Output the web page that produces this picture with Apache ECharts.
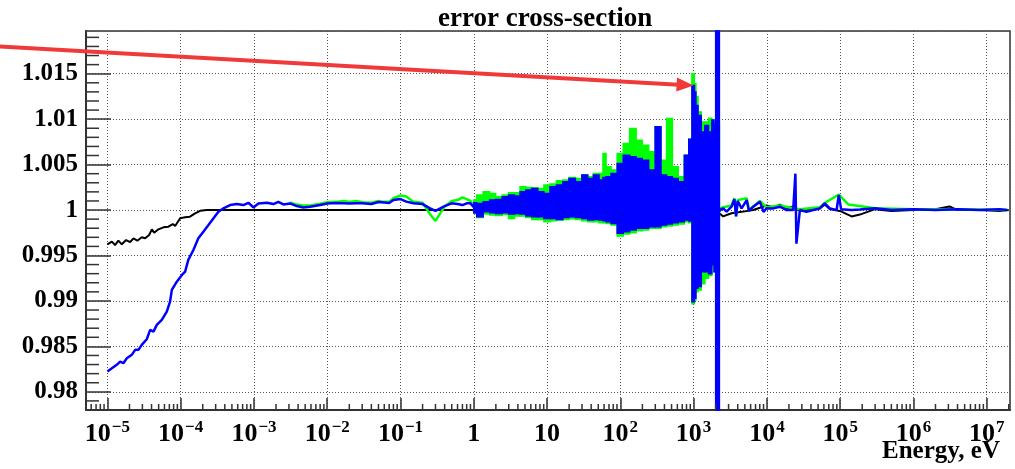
<!DOCTYPE html>
<html>
<head>
<meta charset="utf-8">
<script src="https://cdn.jsdelivr.net/npm/echarts@6/dist/echarts.min.js"></script>
<style>
  html, body { margin: 0; padding: 0; background: #fff; }
  #chart { width: 1015px; height: 469px; }
</style>
</head>
<body>
<div id="chart"></div>
<script>
// ---- axis ranges ----
const X_MIN = 5.1e-6, X_MAX = 2.08e7;   // energy, eV (plotted on log10 scale)
const Y_MIN = 0.978, Y_MAX = 1.0197;    // ratio

// ---- black curve ----
const blackE = [1.0e-5, 1.15e-5, 1.27e-5, 1.41e-5, 1.57e-5, 1.80e-5, 2.04e-5, 2.27e-5, 2.56e-5, 2.94e-5,
  3.27e-5, 3.71e-5, 4.04e-5, 4.34e-5, 4.97e-5, 5.81e-5, 6.79e-5, 7.80e-5, 8.40e-5, 9.82e-5,
  1.15e-4, 1.34e-4, 1.57e-4, 1.84e-4, 2.27e-4, 1.0e-3, 1.0e-2, 0.1, 1, 10, 100, 1000,
  2285, 2535, 2818, 3296, 4519, 6516, 9908, 12200, 15040, 18560, 22860, 28200, 34760,
  52840, 61790, 72390, 99100, 143300, 185800, 3.0e5, 5.0e5, 1.0e6, 2.0e6, 3.1e6, 4.0e6, 8.0e6, 1.5e7, 2.0e7];
const blackY = [0.99623, 0.99652, 0.99615, 0.99663, 0.99623, 0.99670, 0.99648, 0.99689, 0.99663, 0.99700,
  0.99689, 0.99725, 0.99788, 0.99751, 0.99788, 0.99810, 0.99817, 0.99846, 0.99824, 0.99909,
  0.99920, 0.99927, 0.99963, 0.99992, 1.0, 1.0, 1.0, 1.0, 1.0, 1.0, 1.0, 1.0,
  0.9996, 0.9993, 0.99945, 0.99965, 0.9998, 1.0, 1.0005, 1.0003, 1.0006, 1.0002, 1.0004, 0.9999, 1.0,
  1.0002, 1.0006, 1.0001, 0.9999, 0.9993, 0.9995, 1.0001, 0.9999, 1.0, 1.0001, 1.0004, 1.0, 1.0, 0.9999, 1.0];

// ---- blue curve, smooth parts ----
const blueLowE = [1.0e-5, 1.15e-5, 1.34e-5, 1.49e-5, 1.65e-5, 1.84e-5, 2.15e-5, 2.39e-5, 2.65e-5, 2.94e-5,
  3.44e-5, 3.83e-5, 4.25e-5, 4.72e-5, 5.52e-5, 6.46e-5, 7.16e-5, 7.57e-5, 8.85e-5, 1.04e-4,
  1.15e-4, 1.27e-4, 1.49e-4, 1.74e-4, 2.04e-4, 2.39e-4, 2.79e-4, 3.27e-4, 3.83e-4, 4.72e-4,
  5.82e-4, 7.16e-4, 8.39e-4, 9.82e-4, 1.15e-3, 1.50e-3, 1.84e-3, 2.15e-3, 2.52e-3, 3.10e-3,
  3.84e-3, 4.72e-3, 5.82e-3, 7.98e-3, 0.01, 0.013, 0.017, 0.02, 0.025, 0.03,
  0.04, 0.05, 0.06, 0.07, 0.08, 0.1, 0.12, 0.15, 0.2, 0.25,
  0.3, 0.4, 0.5, 0.6, 0.7, 0.8, 0.9, 1.0];
const blueLowY = [0.98223, 0.98260, 0.98297, 0.98333, 0.98315, 0.98370, 0.98407, 0.98462, 0.98462, 0.98516,
  0.98579, 0.98681, 0.98663, 0.98736, 0.98791, 0.98883, 0.98992, 0.99121, 0.99212, 0.99286,
  0.99322, 0.99451, 0.99560, 0.99689, 0.99762, 0.99835, 0.99908, 0.99982, 1.00018, 1.00055,
  1.00066, 1.00055, 1.00080, 1.00029, 1.00073, 1.00080, 1.00066, 1.00091, 1.00062, 1.00073,
  1.00044, 1.00029, 1.00036, 1.00055, 1.00071, 1.00077, 1.00074, 1.00071, 1.00074, 1.00074,
  1.00066, 1.00088, 1.00082, 1.00077, 1.00110, 1.00121, 1.00093, 1.00074, 1.00066, 1.00022,
  0.99992, 1.00044, 1.00074, 1.00066, 1.00055, 1.00074, 1.00074, 1.00030];
const blueHighE = [2300, 2535, 2818, 3296, 3600, 3800, 4000, 4519, 5300, 5700,
  6516, 8036, 9000, 9908, 12200, 15040, 18560, 22860, 24500, 25300,
  28200, 34760, 42850, 52840, 61790, 72390, 89300, 96000, 103000, 143300,
  185800, 3.0e5, 5.0e5, 1.0e6, 2.0e6, 4.0e6, 8.0e6, 1.5e7, 1.9e7];
const blueHighY = [1.0000, 1.00018, 0.99982, 1.00037, 1.0012, 0.9993, 1.0010, 1.00018, 1.0011, 0.9999,
  1.00037, 1.00092, 0.9998, 1.0002, 1.00018, 1.00037, 1.0, 1.0, 1.0040, 0.9963,
  1.0, 0.99982, 1.0, 1.00018, 1.00073, 1.00018, 1.0, 1.00165, 1.0001, 1.0,
  1.00005, 1.0002, 1.0, 1.0001, 1.0, 1.0001, 1.0, 1.0001, 1.0];

// ---- green curve, smooth parts ----
const greenLowE = [3.10e-3, 3.84e-3, 4.72e-3, 5.82e-3, 7.98e-3, 0.01, 0.013, 0.017, 0.02, 0.025,
  0.03, 0.04, 0.05, 0.06, 0.07, 0.08, 0.1, 0.12, 0.15, 0.2,
  0.25, 0.3, 0.4, 0.5, 0.6, 0.7, 0.8, 0.9, 1.0];
const greenLowY = [1.00085, 1.0006, 1.0005, 1.0005, 1.0007, 1.00085, 1.0009, 1.0010, 1.0009, 1.0010,
  1.00085, 1.0008, 1.0010, 1.0009, 1.0009, 1.0013, 1.0016, 1.0015, 1.0009, 1.0008,
  0.9996, 0.9988, 1.0004, 1.0010, 1.0011, 1.0014, 1.0012, 1.0010, 1.0004];
const greenHighE = [2300, 2535, 3296, 3600, 3800, 4000, 5300, 5700, 8036, 9908,
  15040, 22860, 28200, 52840, 61790, 96000, 1.3e5, 3.0e5, 1.0e6, 4.0e6, 1.9e7];
const greenHighY = [1.0002, 1.0003, 1.0005, 1.0013, 0.9993, 1.0011, 1.0013, 1.0, 1.0010, 1.0003,
  1.0005, 1.0002, 1.0001, 1.0003, 1.0008, 1.0017, 1.0006, 1.0002, 1.0001, 1.0001, 1.0];

// ---- fluctuating region 1 eV .. 2.3 keV: upper / lower envelopes ----
const bandE = [1.0, 1.2, 1.5, 1.8, 2.2, 2.7, 3.3, 3.9, 4.7, 5.6,
  6.8, 8.2, 10, 12, 15, 18, 22, 27, 33, 39,
  47, 56, 60, 68, 82, 100, 120, 150, 180, 220,
  270, 330, 390, 470, 560, 680, 820, 900, 1000, 1050,
  1100, 1200, 1350, 1500, 1700, 1850, 1950, 2050, 2200, 2300];
const blueBandHi = [1.00081, 1.00073, 1.00092, 1.00110, 1.00117, 1.00147, 1.00165, 1.00154, 1.00201, 1.00220,
  1.00238, 1.00201, 1.00183, 1.00256, 1.00275, 1.00311, 1.00348, 1.00311, 1.00385, 1.00348,
  1.00385, 1.00330, 1.00359, 1.00366, 1.00403, 1.00513, 1.00604, 1.00586, 1.00568, 1.00549,
  1.00440, 1.00916, 1.00385, 1.00366, 1.00348, 1.00311, 1.00604, 1.0078, 1.0137, 1.0130,
  1.0115, 1.0104, 1.0086, 1.0093, 1.0086, 1.0099, 1.0093, 1.04, 1.04, 1.0001];
const blueBandLo = [0.99971, 0.99927, 0.99982, 0.99971, 0.99963, 0.99971, 0.99956, 0.99963, 0.99956, 0.99934,
  0.99927, 0.99927, 0.99908, 0.99908, 0.99897, 0.99919, 0.99927, 0.99919, 0.99908, 0.99890,
  0.99897, 0.99890, 0.99883, 0.99872, 0.99853, 0.99744, 0.99762, 0.99780, 0.99799, 0.99799,
  0.99817, 0.99817, 0.99835, 0.99846, 0.99861, 0.99872, 0.99890, 0.9988, 0.9899, 0.9903,
  0.9914, 0.9916, 0.9932, 0.9932, 0.9930, 0.9940, 0.9932, 0.95, 0.95, 0.9999];
const greenBandHi = [1.00110, 1.00165, 1.00201, 1.00183, 1.00147, 1.00165, 1.00190, 1.00190, 1.00256, 1.00249,
  1.00245, 1.00238, 1.00275, 1.00286, 1.00322, 1.00330, 1.00359, 1.00348, 1.00385, 1.00366,
  1.00403, 1.00403, 1.00623, 1.00476, 1.00440, 1.00623, 1.00733, 1.00897, 1.00769, 1.00714,
  1.00641, 1.00916, 1.00549, 1.01007, 1.00476, 1.00366, 1.00604, 1.0078, 1.0150, 1.0139,
  1.0125, 1.0108, 1.0097, 1.0097, 1.0101, 1.0099, 1.0093, 1.0093, 1.0093, 1.0001];
const greenBandLo = [0.99963, 0.99919, 0.99956, 0.99945, 0.99941, 0.99952, 0.99908, 0.99934, 0.99934, 0.99919,
  0.99897, 0.99897, 0.99872, 0.99883, 0.99890, 0.99897, 0.99905, 0.99897, 0.99883, 0.99872,
  0.99872, 0.99861, 0.99861, 0.99853, 0.99835, 0.99714, 0.99736, 0.99751, 0.99773, 0.99780,
  0.99799, 0.99799, 0.99817, 0.99824, 0.99835, 0.99846, 0.99872, 0.9986, 0.9897, 0.9901,
  0.9910, 0.9912, 0.9919, 0.9925, 0.9928, 0.9938, 0.9932, 0.9932, 0.9932, 0.9999];

// ---- annotation arrow: tail (off to the left) and tip at the 1 keV peak ----
const ARROW_FROM = [3.4e-7, 1.0180];
const ARROW_TO = [1000, 1.0137];

// ---- texts ----
const TITLE = 'error cross-section';
const X_NAME = 'Energy, eV';

const FONT = '"Liberation Serif", "Times New Roman", serif';
const BLUE = '#0000ff', GREEN = '#00ff00', BLACK = '#000000', RED = '#f03a3a';
const AXIS_COLOR = '#333';

const lg = Math.log10;

// minor tick positions (2..9 per decade on x, 0.001 steps on y)
const xMinorTicks = [];
for (let d = -6; d <= 7; d++) {
  for (let k = 2; k <= 9; k++) {
    const v = k * Math.pow(10, d);
    if (v > X_MIN && v < X_MAX) xMinorTicks.push(v);
  }
}
const yMinorTicks = [];
for (let i = 979; i <= 1019; i++) if (i % 5 !== 0) yMinorTicks.push(i / 1000);

function pairs(E, Y) { return E.map((e, i) => [lg(e), Y[i]]); }

function curve(name, E, Y, color, width, z) {
  return {
    name, type: 'line', z, data: pairs(E, Y), symbol: 'none', showSymbol: false,
    lineStyle: { color, width }, itemStyle: { color }, silent: true
  };
}

// fluctuation band: one filled bin per energy, spanning lower..upper envelope
function band(name, E, hi, lo, color, z) {
  const n = E.length;
  const data = E.map((e, i) => {
    const x = lg(e);
    const xl = i > 0 ? (lg(E[i - 1]) + x) / 2 : x;
    const xr = i < n - 1 ? (x + lg(E[i + 1])) / 2 : x;
    return [x, lo[i], hi[i], xl, xr];
  });
  return {
    name, type: 'custom', z, silent: true, data, encode: { x: 0, y: 1 },
    renderItem: (params, api) => {
      const a = api.coord([api.value(3), api.value(2)]);
      const b = api.coord([api.value(4), api.value(1)]);
      const cs = params.coordSys;
      const shape = echarts.graphic.clipRectByRect(
        { x: a[0], y: a[1], width: b[0] - a[0], height: b[1] - a[1] },
        { x: cs.x, y: cs.y, width: cs.width, height: cs.height });
      return shape && { type: 'rect', shape, style: { fill: color, stroke: color, lineWidth: 1.5 } };
    }
  };
}

function xLabel(v) {
  const p = Math.round(v);
  if (p === 0) return '{b|1}';
  if (p === 1) return '{b|10}';
  return '{b|10}{s|' + (p < 0 ? '\u2212' + (-p) : p) + '}';
}

const chart = echarts.init(document.getElementById('chart'), null, { renderer: 'canvas' });

const option = {
  animation: false,
  backgroundColor: '#fff',
  title: [
    {
      text: TITLE, left: 433, top: 1,
      textStyle: { fontFamily: FONT, fontWeight: 'bold', fontSize: 27, color: '#000' }
    },
    {
      text: X_NAME, right: 10, top: 434,
      textStyle: { fontFamily: FONT, fontWeight: 'bold', fontSize: 25, color: '#000' }
    }
  ],
  grid: {
    left: 86, right: 5, top: 31, bottom: 59,
    show: true, borderColor: AXIS_COLOR, borderWidth: 1.5, backgroundColor: 'transparent'
  },
  xAxis: {
    type: 'value', min: lg(X_MIN), max: lg(X_MAX), splitNumber: 12,
    axisLine: { show: true, onZero: false, lineStyle: { color: AXIS_COLOR, width: 2 } },
    axisTick: { show: true, inside: true, length: 12, lineStyle: { color: AXIS_COLOR, width: 1.5 } },
    splitLine: { show: true, lineStyle: { color: '#555', width: 1, type: [1, 2] } },
    axisLabel: {
      margin: 9, showMinLabel: false, showMaxLabel: false,
      formatter: xLabel,
      rich: {
        b: { fontFamily: FONT, fontWeight: 'bold', fontSize: 26, color: '#000', lineHeight: 30 },
        s: { fontFamily: FONT, fontWeight: 'bold', fontSize: 17, color: '#000', lineHeight: 14, verticalAlign: 'top', padding: [0, 0, 0, 1] }
      }
    }
  },
  yAxis: {
    type: 'value', min: Y_MIN, max: Y_MAX, splitNumber: 8,
    axisLine: { show: true, onZero: false, lineStyle: { color: AXIS_COLOR, width: 2 } },
    axisTick: { show: true, inside: true, length: 25, lineStyle: { color: AXIS_COLOR, width: 1.5 } },
    splitLine: { show: true, lineStyle: { color: '#555', width: 1, type: [1, 2] } },
    axisLabel: {
      margin: 8, showMinLabel: false, showMaxLabel: false,
      fontFamily: FONT, fontWeight: 'bold', fontSize: 25, color: '#000',
      formatter: v => String(Math.round(v * 1000) / 1000)
    }
  },
  series: [
    curve('black', blackE, blackY, BLACK, 2, 2),
    curve('green-low', greenLowE, greenLowY, GREEN, 2.5, 3),
    curve('green-high', greenHighE, greenHighY, GREEN, 2.5, 3),
    band('green-band', bandE, greenBandHi, greenBandLo, GREEN, 3),
    curve('blue-low', blueLowE, blueLowY, BLUE, 2.5, 4),
    curve('blue-high', blueHighE, blueHighY, BLUE, 2.5, 4),
    band('blue-band', bandE, blueBandHi, blueBandLo, BLUE, 4),
    {
      name: 'x-minor', type: 'custom', silent: true, z: 5,
      data: xMinorTicks.map(v => [lg(v), Y_MIN]), encode: { x: 0, y: 1 },
      renderItem: (p, api) => {
        const c = api.coord([api.value(0), api.value(1)]);
        return { type: 'line', shape: { x1: c[0], y1: c[1], x2: c[0], y2: c[1] - 6 },
                 style: { stroke: AXIS_COLOR, lineWidth: 1.5 } };
      }
    },
    {
      name: 'y-minor', type: 'custom', silent: true, z: 5,
      data: yMinorTicks.map(v => [lg(X_MIN), v]), encode: { x: 0, y: 1 },
      renderItem: (p, api) => {
        const c = api.coord([api.value(0), api.value(1)]);
        return { type: 'line', shape: { x1: c[0], y1: c[1], x2: c[0] + 13, y2: c[1] },
                 style: { stroke: AXIS_COLOR, lineWidth: 1.5 } };
      }
    }
  ]
};

chart.setOption(option);

// arrow drawn in pixel space from the two data anchors
const tail = chart.convertToPixel({ gridIndex: 0 }, [lg(ARROW_FROM[0]), ARROW_FROM[1]]);
const tip = chart.convertToPixel({ gridIndex: 0 }, [lg(ARROW_TO[0]), ARROW_TO[1]]);
const dx = tip[0] - tail[0], dy = tip[1] - tail[1];
const len = Math.hypot(dx, dy);
const ux = dx / len, uy = dy / len, nx = -uy, ny = ux;
const headLen = 17, headHalf = 7;
const bx = tip[0] - ux * headLen, by = tip[1] - uy * headLen;
chart.setOption({
  graphic: [
    { type: 'line', z: 100, silent: true,
      shape: { x1: tail[0], y1: tail[1], x2: bx + ux * 2, y2: by + uy * 2 },
      style: { stroke: RED, lineWidth: 4 } },
    { type: 'polygon', z: 100, silent: true,
      shape: { points: [[tip[0], tip[1]], [bx + nx * headHalf, by + ny * headHalf], [bx - nx * headHalf, by - ny * headHalf]] },
      style: { fill: RED } }
  ]
});
</script>
</body>
</html>
